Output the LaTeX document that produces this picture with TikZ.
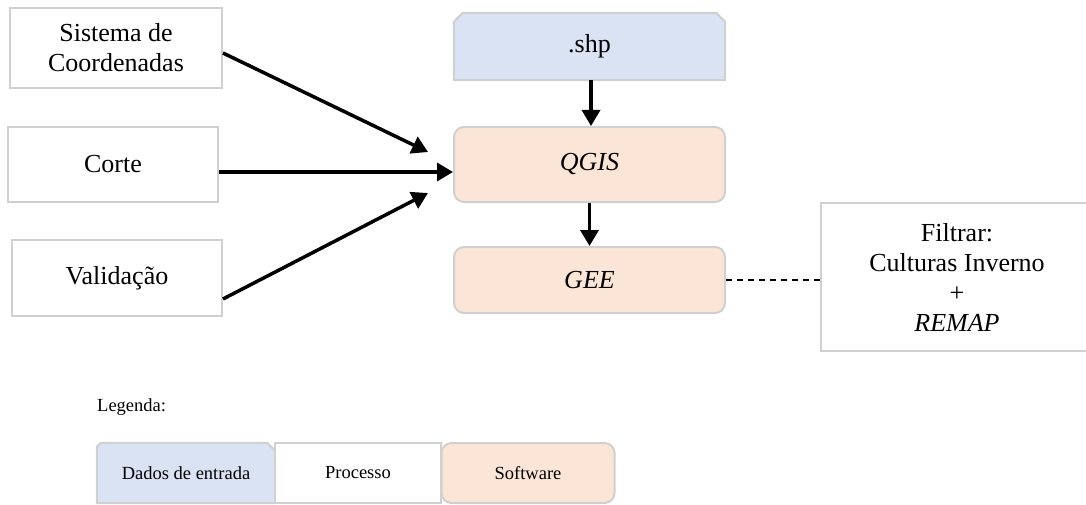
\documentclass[tikz,border=0pt]{standalone}
\usepackage{fontspec}
\setmainfont{Liberation Serif}
\usetikzlibrary{arrows.meta,calc}
\definecolor{bordergray}{RGB}{208,208,208}
\definecolor{inblue}{RGB}{218,227,243}
\definecolor{swpeach}{RGB}{251,229,214}
\begin{document}
\begin{tikzpicture}[x=1pt,y=-1pt,
  every node/.style={inner sep=0pt, align=center, font=\rmfamily\fontsize{26}{30}\selectfont},
  procbox/.style={draw=bordergray, line width=2pt, fill=white},
  softbox/.style={draw=bordergray, line width=2pt, fill=swpeach, rounded corners=10pt},
  ghost/.style={draw=none},
  legfont/.style={font=\rmfamily\fontsize{18.5}{22}\selectfont},
  arr/.style={line width=3.5pt, -{Triangle[length=16pt,width=18pt]}},
  dashline/.style={line width=1.5pt, dash pattern=on 6pt off 5pt}]
\useasboundingbox (0,0) rectangle (1086,505);
% left process boxes
\node[procbox, minimum width=212pt, minimum height=80pt] (sis) at (116,48) {Sistema de\\Coordenadas};
\node[procbox, minimum width=210pt, minimum height=75pt] (corte) at (113,164.5) {Corte};
\node[procbox, minimum width=210pt, minimum height=76pt] (val) at (117,278) {Validação};
% input data (.shp)
\node[ghost, minimum width=271pt, minimum height=67pt] (shp) at (589.5,46.5) {};
\fill[inblue, draw=bordergray, line width=2pt]
  (shp.south west) -- ($(shp.north west)+(0,9)$) -- ($(shp.north west)+(9,0)$)
  -- ($(shp.north east)+(-9,0)$) -- ($(shp.north east)+(0,9)$) -- (shp.south east) -- cycle;
\node at (shp.center) (shptxt) {.shp};
% software
\node[softbox, minimum width=271pt, minimum height=75pt] (qgis) at (589.5,164.5) {\itshape QGIS};
\node[softbox, minimum width=271pt, minimum height=66pt] (gee) at (589.5,280) {\itshape GEE};
% filter box
\node[procbox, minimum width=272pt, minimum height=148pt] (filt) at (957,277)
  {Filtrar:\\Culturas Inverno\\+\\\itshape REMAP};
% connectors
\coordinate (t1) at (428,152);
\coordinate (t3) at (428,193);
\draw[arr] ([yshift=-5pt]sis.east) -- (t1);
\draw[arr] ([yshift=-7.5pt]corte.east) -- ([yshift=-7.5pt]qgis.west);
\draw[arr] ([yshift=-21pt]val.east) -- (t3);
\draw[arr] ([xshift=1.5pt]shp.south) -- ([xshift=1.5pt]qgis.north);
\draw[arr] (qgis.south) -- (gee.north);
\draw[dashline] (gee.east) -- (filt.west |- gee.east);
% legend
\node[legfont, anchor=west] (leg) at (97,407) {Legenda:};
\node[ghost, minimum width=178pt, minimum height=60pt] (ldados) at (186,473) {};
\fill[inblue, draw=bordergray, line width=2pt]
  (ldados.south west) -- ($(ldados.north west)+(0,4)$) -- ($(ldados.north west)+(4,0)$)
  -- ($(ldados.north east)+(-8,0)$) -- ($(ldados.north east)+(0,8)$) -- (ldados.south east) -- cycle;
\node[legfont] (ldadostxt) at (ldados.center) {Dados de entrada};
\node[procbox, legfont, minimum width=166pt, minimum height=60pt] (lproc) at (358,473) {Processo};
\node[softbox, legfont, minimum width=173pt, minimum height=60pt] (lsoft) at (528,473) {Software};
\end{tikzpicture}
\end{document}
